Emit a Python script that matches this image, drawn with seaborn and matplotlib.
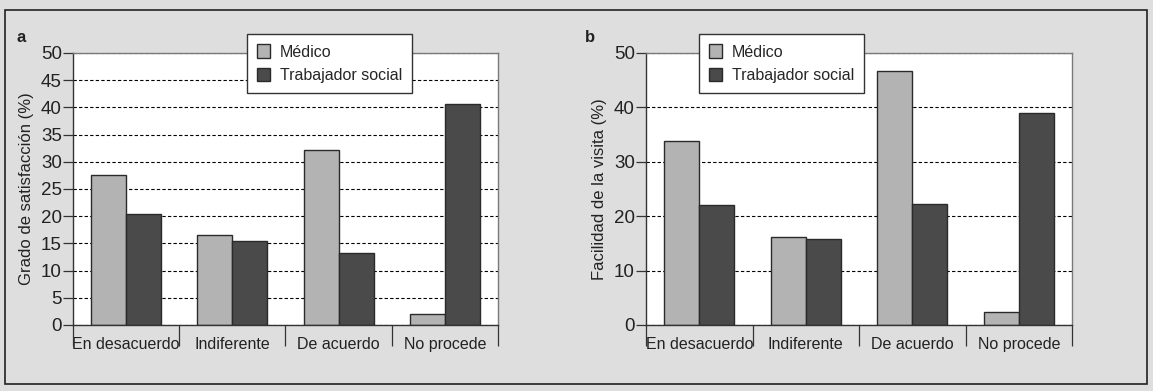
import numpy as np
import pandas as pd
import matplotlib
matplotlib.use("Agg")
import matplotlib.pyplot as plt
from matplotlib.patches import Rectangle
import seaborn as sns

# Data
categories = ["En desacuerdo", "Indiferente", "De acuerdo", "No procede"]
groups = ["Médico", "Trabajador social"]
satisf_medico = [27.6, 16.6, 32.2, 2.1]
satisf_trabajador = [20.4, 15.4, 13.2, 40.7]
visita_medico = [33.9, 16.1, 46.7, 2.3]
visita_trabajador = [22.1, 15.8, 22.3, 39.0]

sns.set_theme(style="white")
plt.rcParams["font.family"] = ["Liberation Sans", "DejaVu Sans"]


def long_df(med, ts):
    return pd.DataFrame({
        "categoria": categories * 2,
        "grupo": [groups[0]] * 4 + [groups[1]] * 4,
        "valor": med + ts,
    })


palette = {groups[0]: "#b3b3b3", groups[1]: "#4a4a4a"}

fig = plt.figure(figsize=(11.53, 3.91), dpi=100)
fig.patch.set_facecolor("#dedede")
fig.patches.append(Rectangle((5 / 1153, 1 - 384 / 391), 1142 / 1153, 374 / 391,
                             transform=fig.transFigure, fill=False,
                             edgecolor="#222222", lw=1.2))

panels = [
    ("a", [0.0633, 0.1688, 0.3686, 0.6957], long_df(satisf_medico, satisf_trabajador),
     "Grado de satisfacción (%)", np.arange(0, 51, 5), 0.2142, 0.0143),
    ("b", [0.5603, 0.1688, 0.3695, 0.6957], long_df(visita_medico, visita_trabajador),
     "Facilidad de la visita (%)", np.arange(0, 51, 10), 0.6063, 0.5075),
]

for letter, rect, df, ylabel, yticks, legx, letx in panels:
    ax = fig.add_axes(rect)
    ax.set_facecolor("white")
    sns.barplot(data=df, x="categoria", y="valor", hue="grupo", palette=palette,
                width=0.66, edgecolor="#2a2a2a", linewidth=1.0, saturation=1,
                ax=ax, legend=False)
    ax.set_axisbelow(True)
    ax.set_ylim(0, 50)
    ax.set_xlim(-0.5, 3.5)
    ax.set_yticks(yticks)
    ax.yaxis.grid(True, linestyle=(0, (3, 2)), color="black", linewidth=0.8)
    ax.xaxis.grid(False)
    ax.set_xlabel("")
    ax.set_ylabel(ylabel, fontsize=12, color="#222222", labelpad=5)
    ax.tick_params(axis="y", length=7, width=0.9, color="#333333", labelsize=13.5,
                   pad=1, left=True, labelcolor="#222222")
    ax.tick_params(axis="x", which="major", length=0, labelsize=11.5, pad=9,
                   labelcolor="#222222")
    ax.set_xticks(np.arange(-0.5, 3.6, 1), minor=True)
    ax.tick_params(axis="x", which="minor", length=15, width=0.9, color="#333333",
                   bottom=True)
    for side in ["left", "bottom"]:
        ax.spines[side].set_color("#333333")
        ax.spines[side].set_linewidth(1.0)
    for side in ["top", "right"]:
        ax.spines[side].set_color("#7a7a7a")
        ax.spines[side].set_linewidth(1.0)

    handles = [Rectangle((0, 0), 1, 1, facecolor=palette[g], edgecolor="#2a2a2a", lw=1.0)
               for g in groups]
    leg = fig.legend(handles, groups, loc="upper left", bbox_to_anchor=(legx, 0.913),
                     bbox_transform=fig.transFigure, borderaxespad=0, fancybox=False,
                     fontsize=11.5, handlelength=0.8, handleheight=0.9, handletextpad=0.6,
                     borderpad=0.65, labelspacing=0.5, framealpha=1)
    leg.get_frame().set_edgecolor("#333333")
    leg.get_frame().set_linewidth(1.0)

    fig.text(letx, 0.905, letter,
             fontsize=12, fontweight="bold", color="#222222", va="center")

fig.savefig("out.png", dpi=100, facecolor=fig.get_facecolor())
